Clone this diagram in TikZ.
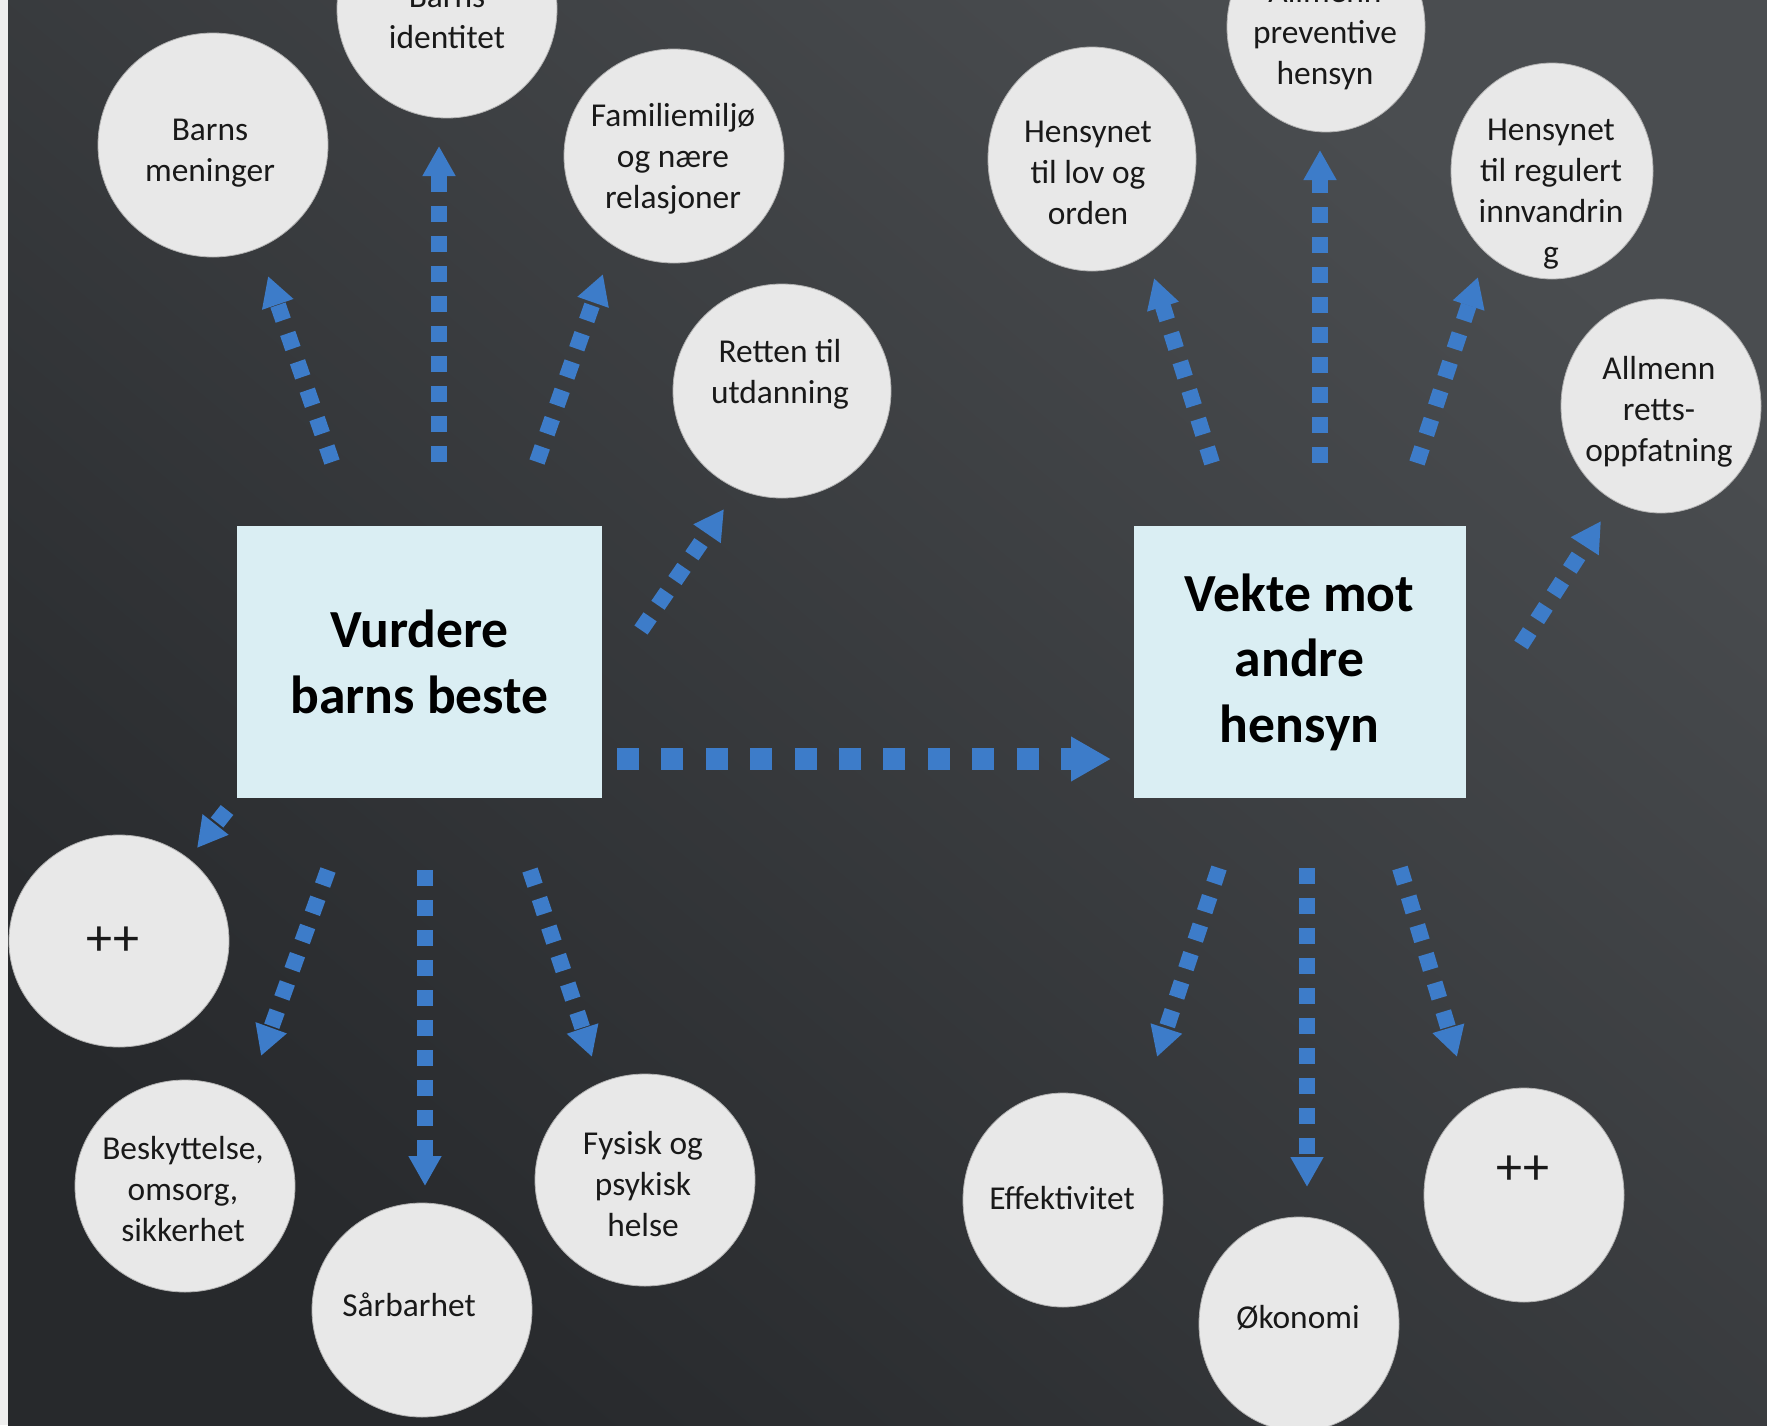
\documentclass[tikz,border=0pt]{standalone}
\usepackage{fontspec}
\setmainfont{Carlito}
\usetikzlibrary{arrows.meta,shapes.geometric}
\definecolor{bgA}{HTML}{4A4D50}
\definecolor{bgB}{HTML}{27292C}
\definecolor{edge}{HTML}{EEEEEE}
\definecolor{bubblefill}{HTML}{E8E8E8}
\definecolor{boxfill}{HTML}{DAEEF3}
\definecolor{arrblue}{HTML}{3D7CC9}
\tikzset{
  bubble/.style={ellipse, fill=bubblefill, draw=black!30, line width=0.4pt, inner sep=0pt},
  btext/.style={align=center, inner sep=0pt, text=black!90, font=\fontsize{16.7}{20.5}\selectfont},
  plustext/.style={inner sep=0pt, text=black!90, font=\fontsize{26}{30}\selectfont},
  mainbox/.style={rectangle, fill=boxfill, inner sep=0pt, align=center, text=black,
    minimum width=182.5pt, minimum height=136pt, font=\fontsize{26.8}{32.7}\selectfont\bfseries},
  arr/.style={draw=arrblue, line width=8pt, dash pattern=on 8pt off 7pt,
    -{Triangle[length=15pt,width=15.5pt]}},
  bigarr/.style={draw=arrblue, line width=11pt, dash pattern=on 11pt off 11.2pt,
    -{Triangle[length=20pt,width=21pt]}}
}
\begin{document}
\begin{tikzpicture}[x=0.5pt,y=-0.5pt]
\useasboundingbox (0,0) rectangle (1767,1425);
\clip (0,0) rectangle (1767,1425);
\fill[edge] (0,0) rectangle (8,1425);
\shade[top color=bgA, bottom color=bgB, shading angle=-40] (8,0) rectangle (1767,1425);

% main boxes
\node[mainbox] (vb) at (419.5,662) {Vurdere\\barns beste};
\node[mainbox, minimum width=166pt] (vm) at (1299.5,662) {Vekte mot\\andre\\hensyn};

% bubbles (left group)
\node[bubble, minimum width=110pt, minimum height=109pt] (c1) at (447,9) {};
\node[btext] (t1) at (447,17) {Barns\\identitet};
\node[bubble, minimum width=115pt, minimum height=112pt] (c2) at (213,145) {};
\node[btext] (t2) at (210,153) {Barns\\meninger};
\node[bubble, minimum width=110pt, minimum height=107pt] (c3) at (674,156) {};
\node[btext] (t3) at (673,159) {Familiemiljø\\og nære\\relasjoner};
\node[bubble, minimum width=109pt, minimum height=107pt] (c4) at (782,391) {};
\node[btext] (t4) at (780,374) {Retten til\\utdanning};
\node[bubble, minimum width=110pt, minimum height=106pt] (c9) at (119,941) {};
\node[plustext] (t9) at (113,941) {++};
\node[bubble, minimum width=110pt, minimum height=106pt] (c10) at (185,1186) {};
\node[btext] (t10) at (183,1189) {Beskyttelse,\\omsorg,\\sikkerhet};
\node[bubble, minimum width=110pt, minimum height=107pt] (c11) at (422,1310) {};
\node[btext] (t11) at (409,1305) {Sårbarhet};
\node[bubble, minimum width=110pt, minimum height=106pt] (c12) at (645,1180) {};
\node[btext] (t12) at (643,1184) {Fysisk og\\psykisk\\helse};

% bubbles (right group)
\node[bubble, minimum width=104pt, minimum height=112pt] (c5) at (1092,159) {};
\node[btext] (t5) at (1088,173) {Hensynet\\til lov og\\orden};
\node[bubble, minimum width=99pt, minimum height=105pt] (c6) at (1326,27) {};
\node[btext] (t6) at (1325,35) {Allmenn\\preventive\\hensyn};
\node[bubble, minimum width=101pt, minimum height=108pt] (c7) at (1552,171) {};
\node[btext] (t7) at (1551,194) {Hensynet\\til regulert\\innvandrin\\g};
\node[bubble, minimum width=100pt, minimum height=107pt] (c8) at (1661,406) {};
\node[btext] (t8) at (1659,412) {Allmenn\\retts-\\oppfatning};
\node[bubble, minimum width=100pt, minimum height=107pt] (c13) at (1063,1200) {};
\node[btext] (t13) at (1062,1198) {Effektivitet};
\node[bubble, minimum width=100pt, minimum height=107pt] (c14) at (1299,1324) {};
\node[btext] (t14) at (1298,1318) {Økonomi};
\node[bubble, minimum width=100pt, minimum height=107pt] (c15) at (1524,1195) {};
\node[plustext] (t15) at (1523,1170) {++};

% arrow end points
\coordinate (a1s) at (332,462);  \coordinate (a1e) at (268,276);
\coordinate (a2s) at (439,462);  \coordinate (a2e) at (439,146);
\coordinate (a3s) at (537,462);  \coordinate (a3e) at (603,274);
\coordinate (a4s) at (641,630);  \coordinate (a4e) at (724,509);
\coordinate (a5s) at (227,810);  \coordinate (a5e) at (197,848);
\coordinate (a6s) at (328,870);  \coordinate (a6e) at (261,1056);
\coordinate (a7s) at (425,870);  \coordinate (a7e) at (425,1186);
\coordinate (a8s) at (530,870);  \coordinate (a8e) at (592,1057);
\coordinate (b1s) at (1212,463); \coordinate (b1e) at (1154,278);
\coordinate (b2s) at (1320,463); \coordinate (b2e) at (1320,150);
\coordinate (b3s) at (1417,463); \coordinate (b3e) at (1478,277);
\coordinate (b4s) at (1521,645); \coordinate (b4e) at (1601,521);
\coordinate (b5s) at (1219,868); \coordinate (b5e) at (1157,1057);
\coordinate (b6s) at (1307,868); \coordinate (b6e) at (1307,1187);
\coordinate (b7s) at (1400,868); \coordinate (b7e) at (1457,1057);
\coordinate (hs) at (617,759);   \coordinate (he) at (1111,759);

\foreach \p in {a1,a2,a3,a4,a5,a6,a7,a8,b1,b2,b3,b4,b5,b6,b7}
  \draw[arr] (\p s) -- (\p e);
\draw[bigarr] (hs) -- (he);
\end{tikzpicture}
\end{document}
